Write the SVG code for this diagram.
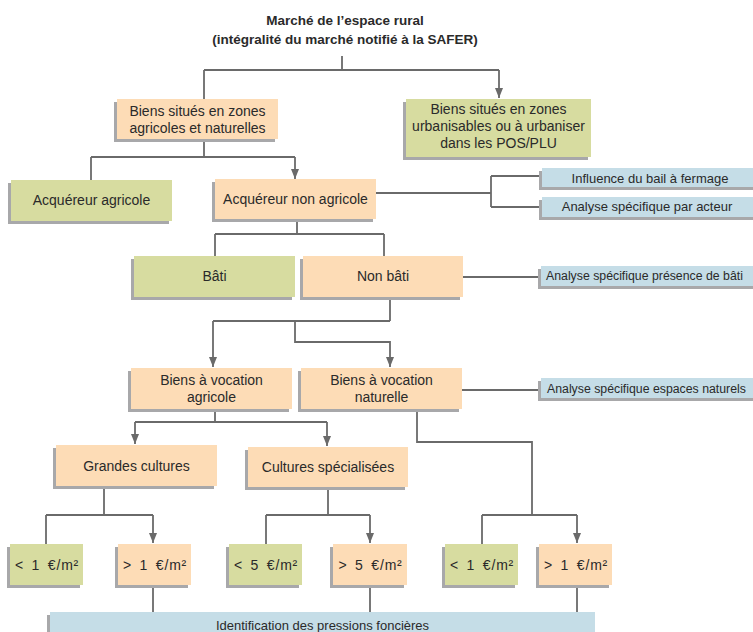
<svg xmlns="http://www.w3.org/2000/svg" width="753" height="632" viewBox="0 0 753 632">
<defs>
<style>
.sh{fill:#a8a8aa}
.pe{fill:#fddcb6}
.gr{fill:#d7dca0}
.bl{fill:#c5dde7}
text{font-family:"Liberation Sans",Arial,sans-serif;fill:#2a2a2a;text-anchor:middle}
.t13{font-size:14px}
.t12{font-size:13px}
.tl{font-size:12.3px;text-anchor:start}
.tt{font-size:13.5px;font-weight:bold}
.pr{font-size:14px;word-spacing:3px;letter-spacing:0.8px}
.ln{fill:none;stroke:#6a6a6a;stroke-width:1.8}
</style>
<marker id="arr" markerUnits="userSpaceOnUse" markerWidth="10" markerHeight="8" refX="10" refY="4" orient="auto">
<path d="M0,0 L10,4 L0,8 z" fill="#6a6a6a"/>
</marker>
</defs>
<rect width="753" height="632" fill="#ffffff"/>

<g id="title">
<text class="tt" x="345" y="25">Marché de l’espace rural</text>
<text class="tt" x="345" y="44">(intégralité du marché notifié à la SAFER)</text>
</g>

<g id="connectors">
<path class="ln" d="M342,56 V70 M204,70 H499 M204,70 V99"/>
<path class="ln" d="M499,70 V98" marker-end="url(#arr)"/>
<path class="ln" d="M204,139 V157 M91,157 H295 M91,157 V180"/>
<path class="ln" d="M295,157 V179" marker-end="url(#arr)"/>
<path class="ln" d="M376,193 H491 M491,176 V207 M491,176 H542 M491,207 H542"/>
<path class="ln" d="M297,219 V234 M215,234 H384 M215,234 V256 M384,234 V256"/>
<path class="ln" d="M463,277 H541"/>
<path class="ln" d="M390,297 V321 M213,321 H390"/>
<path class="ln" d="M213,321 V367" marker-end="url(#arr)"/>
<path class="ln" d="M295,321 V342 H390 V367" marker-end="url(#arr)"/>
<path class="ln" d="M462,390 H541"/>
<path class="ln" d="M215,409 V422 M135,422 H327"/>
<path class="ln" d="M135,422 V444" marker-end="url(#arr)"/>
<path class="ln" d="M327,422 V446" marker-end="url(#arr)"/>
<path class="ln" d="M417,409 V442 H532 V515"/>
<path class="ln" d="M104,486 V515 M46,515 H153 M46,515 V544"/>
<path class="ln" d="M153,515 V543" marker-end="url(#arr)"/>
<path class="ln" d="M328,487 V515 M266,515 H370 M266,515 V544"/>
<path class="ln" d="M370,515 V543" marker-end="url(#arr)"/>
<path class="ln" d="M482,515 H577 M482,515 V544"/>
<path class="ln" d="M577,515 V543" marker-end="url(#arr)"/>
<path class="ln" d="M153,585 V612 M370,585 V612 M577,585 V612"/>
</g>

<g id="n-agri-nat">
<rect class="sh" x="114" y="102" width="161" height="40"/>
<rect class="pe" x="117" y="99" width="161" height="40"/>
<text class="t13" x="197.5" y="116">Biens situés en zones</text>
<text class="t13" x="197.5" y="133">agricoles et naturelles</text>
</g>

<g id="n-urban">
<rect class="sh" x="403" y="102" width="185" height="58"/>
<rect class="gr" x="406" y="99" width="185" height="58"/>
<text class="t13" x="498.5" y="114">Biens situés en zones</text>
<text class="t13" x="498.5" y="131">urbanisables ou à urbaniser</text>
<text class="t13" x="498.5" y="148">dans les POS/PLU</text>
</g>

<g id="n-acq-agri">
<rect class="sh" x="8" y="183" width="161" height="41"/>
<rect class="gr" x="11" y="180" width="161" height="41"/>
<text class="t13" x="91.5" y="205">Acquéreur agricole</text>
</g>

<g id="n-acq-nonagri">
<rect class="sh" x="212" y="182" width="161" height="40"/>
<rect class="pe" x="215" y="179" width="161" height="40"/>
<text class="t13" x="295.5" y="204">Acquéreur non agricole</text>
</g>

<g id="n-bail">
<rect class="sh" x="539" y="171" width="214" height="19"/>
<rect class="bl" x="542" y="168" width="211" height="19"/>
<text class="t12" x="650" y="183">Influence du bail à fermage</text>
</g>

<g id="n-acteur">
<rect class="sh" x="539" y="200" width="214" height="20"/>
<rect class="bl" x="542" y="197" width="211" height="20"/>
<text class="t12" x="647" y="211">Analyse spécifique par acteur</text>
</g>

<g id="n-bati">
<rect class="sh" x="131" y="259" width="161" height="41"/>
<rect class="gr" x="134" y="256" width="161" height="41"/>
<text class="t13" x="214.5" y="281">Bâti</text>
</g>

<g id="n-nonbati">
<rect class="sh" x="300" y="259" width="160" height="41"/>
<rect class="pe" x="303" y="256" width="160" height="41"/>
<text class="t13" x="383" y="281">Non bâti</text>
</g>

<g id="n-presence-bati">
<rect class="sh" x="538" y="269" width="215" height="20"/>
<rect class="bl" x="541" y="266" width="212" height="20"/>
<text class="tl" x="546" y="280">Analyse spécifique présence de bâti</text>
</g>

<g id="n-voc-agri">
<rect class="sh" x="128" y="371" width="161" height="41"/>
<rect class="pe" x="131" y="368" width="161" height="41"/>
<text class="t13" x="211.5" y="385">Biens à vocation</text>
<text class="t13" x="211.5" y="402">agricole</text>
</g>

<g id="n-voc-nat">
<rect class="sh" x="298" y="371" width="161" height="41"/>
<rect class="pe" x="301" y="368" width="161" height="41"/>
<text class="t13" x="381.5" y="385">Biens à vocation</text>
<text class="t13" x="381.5" y="402">naturelle</text>
</g>

<g id="n-esp-nat">
<rect class="sh" x="538" y="381" width="215" height="20"/>
<rect class="bl" x="541" y="378" width="212" height="20"/>
<text class="tl" x="547" y="393">Analyse spécifique espaces naturels</text>
</g>

<g id="n-grandes">
<rect class="sh" x="53" y="448" width="161" height="41"/>
<rect class="pe" x="56" y="445" width="161" height="41"/>
<text class="t13" x="136.5" y="471">Grandes cultures</text>
</g>

<g id="n-specia">
<rect class="sh" x="245" y="450" width="160" height="40"/>
<rect class="pe" x="248" y="447" width="160" height="40"/>
<text class="t13" x="328" y="472">Cultures spécialisées</text>
</g>

<g id="n-p1">
<rect class="sh" x="7" y="547" width="73" height="41"/>
<rect class="gr" x="10" y="544" width="73" height="41"/>
<text class="pr" x="47" y="570">&lt; 1 €/m²</text>
</g>
<g id="n-p2">
<rect class="sh" x="115" y="547" width="73" height="41"/>
<rect class="pe" x="118" y="544" width="73" height="41"/>
<text class="pr" x="155" y="570">&gt; 1 €/m²</text>
</g>
<g id="n-p3">
<rect class="sh" x="226" y="547" width="73" height="41"/>
<rect class="gr" x="229" y="544" width="73" height="41"/>
<text class="pr" x="266" y="570">&lt; 5 €/m²</text>
</g>
<g id="n-p4">
<rect class="sh" x="330" y="547" width="74" height="41"/>
<rect class="pe" x="333" y="544" width="74" height="41"/>
<text class="pr" x="370.5" y="570">&gt; 5 €/m²</text>
</g>
<g id="n-p5">
<rect class="sh" x="442" y="547" width="73" height="41"/>
<rect class="gr" x="445" y="544" width="73" height="41"/>
<text class="pr" x="482" y="570">&lt; 1 €/m²</text>
</g>
<g id="n-p6">
<rect class="sh" x="536" y="547" width="73" height="41"/>
<rect class="pe" x="539" y="544" width="73" height="41"/>
<text class="pr" x="576" y="570">&gt; 1 €/m²</text>
</g>

<g id="n-identification">
<rect class="sh" x="47" y="615" width="545" height="20"/>
<rect class="bl" x="50" y="612" width="545" height="22"/>
<text class="t12" x="322.5" y="630">Identification des pressions foncières</text>
</g>
</svg>
